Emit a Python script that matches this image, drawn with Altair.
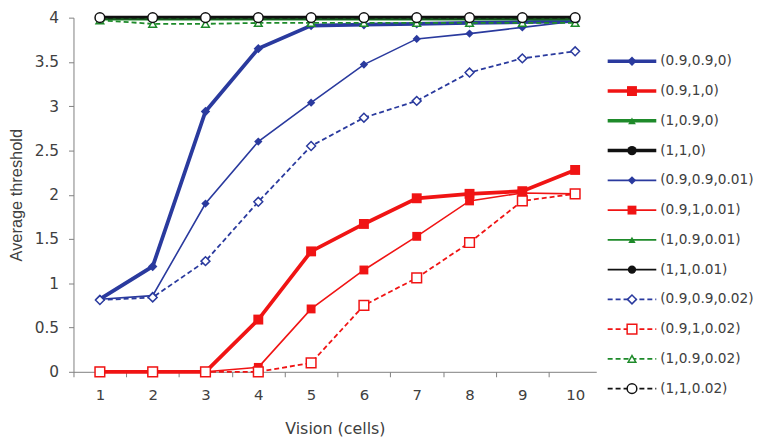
import altair as alt
import pandas as pd

# ---------------- data ----------------
vision = [1, 2, 3, 4, 5, 6, 7, 8, 9, 10]

labels = ["(0.9,0.9,0)", "(0.9,1,0)", "(1,0.9,0)", "(1,1,0)",
          "(0.9,0.9,0.01)", "(0.9,1,0.01)", "(1,0.9,0.01)", "(1,1,0.01)",
          "(0.9,0.9,0.02)", "(0.9,1,0.02)", "(1,0.9,0.02)", "(1,1,0.02)"]

s_0909_0 = [0.82, 1.19, 2.94, 3.65, 3.91, 3.92, 3.93, 3.94, 3.95, 3.96]
s_091_0 = [0.0, 0.0, 0.0, 0.59, 1.36, 1.67, 1.96, 2.01, 2.04, 2.28]
s_109_0 = [3.99, 3.99, 3.99, 3.99, 3.99, 3.99, 3.99, 3.99, 3.99, 3.99]
s_11_0 = [4.0, 4.0, 4.0, 4.0, 4.0, 4.0, 4.0, 4.0, 4.0, 4.0]
s_0909_001 = [0.82, 0.86, 1.90, 2.60, 3.04, 3.47, 3.76, 3.82, 3.89, 3.96]
s_091_001 = [0.0, 0.0, 0.0, 0.05, 0.71, 1.15, 1.53, 1.93, 2.02, 2.01]
s_109_001 = [3.99, 3.99, 3.99, 3.99, 3.99, 3.99, 3.99, 3.99, 3.99, 3.99]
s_11_001 = [4.0, 4.0, 4.0, 4.0, 4.0, 4.0, 4.0, 4.0, 4.0, 4.0]
s_0909_002 = [0.81, 0.84, 1.25, 1.92, 2.55, 2.87, 3.06, 3.38, 3.54, 3.62]
s_091_002 = [0.0, 0.0, 0.0, 0.0, 0.10, 0.75, 1.06, 1.46, 1.93, 2.01]
s_109_002 = [3.97, 3.93, 3.93, 3.94, 3.94, 3.94, 3.94, 3.94, 3.94, 3.94]
s_11_002 = [4.0, 4.0, 4.0, 4.0, 4.0, 4.0, 4.0, 4.0, 4.0, 4.0]

series_values = [s_0909_0, s_091_0, s_109_0, s_11_0,
                 s_0909_001, s_091_001, s_109_001, s_11_001,
                 s_0909_002, s_091_002, s_109_002, s_11_002]

# ---------------- styles ----------------
BLUE = "#2A3A9E"
RED = "#F01414"
GREEN = "#1E8A2A"
BLACK = "#111111"
# color, line width, dash, shape, filled, marker size
styles = [
    (BLUE, 3.8, None, "diamond", True, 90),
    (RED, 3.8, None, "square", True, 100),
    (GREEN, 3.8, None, "triangle-up", True, 60),
    (BLACK, 3.8, None, "circle", True, 90),
    (BLUE, 1.6, None, "diamond", True, 70),
    (RED, 1.6, None, "square", True, 80),
    (GREEN, 1.6, None, "triangle-up", True, 55),
    (BLACK, 1.6, None, "circle", True, 70),
    (BLUE, 1.8, [5, 3], "diamond", False, 80),
    (RED, 1.8, [5, 3], "square", False, 95),
    (GREEN, 1.8, [5, 3], "triangle-up", False, 60),
    (BLACK, 1.8, [5, 3], "circle", False, 95),
]

FONT_V = "Liberation Sans"
FONT_H = "DejaVu Sans"
TXT = "#404040"

rows = []
for lab, vals in zip(labels, series_values):
    for v, y in zip(vision, vals):
        rows.append({"series": lab, "vision": v, "value": y})
df = pd.DataFrame(rows)

W = 527
H = 357
X_MIN, X_MAX = 0.5, 10.4
half_step = W / (X_MAX - X_MIN) / 2

x_enc = alt.X("vision:Q",
              scale=alt.Scale(domain=[X_MIN, X_MAX], nice=False, zero=False),
              axis=alt.Axis(values=vision, tickOffset=-half_step, labelOffset=half_step,
                            title="Vision (cells)", grid=False, labelPadding=11,
                            titlePadding=18, labelFont=FONT_H, titleFont=FONT_H,
                            labelFontSize=15, titleFontSize=16))
y_enc = alt.Y("value:Q",
              scale=alt.Scale(domain=[0, 4], nice=False),
              axis=alt.Axis(values=[0, 0.5, 1, 1.5, 2, 2.5, 3, 3.5, 4], format="~g",
                            title="Average threshold", grid=False, labelPadding=10,
                            titlePadding=10, labelFont=FONT_H, titleFont=FONT_V,
                            labelFontSize=15.5, titleFontSize=16.5))


def line_mark(color, w, dash):
    kw = dict(color=color, strokeWidth=w)
    if dash:
        kw["strokeDash"] = dash
    return kw


def point_mark(color, shape, filled, size):
    if filled:
        return dict(shape=shape, filled=True, color=color, size=size, opacity=1,
                    strokeWidth=0)
    return dict(shape=shape, filled=True, fill="white", stroke=color,
                strokeWidth=1.5, size=size, opacity=1)


layers = []
for lab, (color, w, dash, shape, filled, size) in zip(labels, styles):
    base = alt.Chart(df).transform_filter(alt.datum.series == lab)
    layers.append(base.mark_line(**line_mark(color, w, dash)).encode(x=x_enc, y=y_enc))
    layers.append(base.mark_point(**point_mark(color, shape, filled, size)).encode(x=x_enc, y=y_enc))

main = alt.layer(*layers)

# ---------------- legend (drawn to the right of the plot) ----------------
leg_df = pd.DataFrame({"label": labels, "row": list(range(len(labels)))})
yl = alt.Y("row:Q", scale=alt.Scale(domain=[-1.467, 10.433], reverse=True, nice=False, zero=False),
           axis=None)
LX0, LX1, LXM, LXT = 538.5, 587.5, 563, 591.5
leg_layers = []
for lab, (color, w, dash, shape, filled, size) in zip(labels, styles):
    b = alt.Chart(leg_df).transform_filter(alt.datum.label == lab)
    leg_layers.append(b.mark_rule(**line_mark(color, min(w, 3.5), dash)).encode(
        x=alt.value(LX0), x2=alt.value(LX1), y=yl))
    leg_layers.append(b.mark_point(**point_mark(color, shape, filled, size)).encode(
        x=alt.value(LXM), y=yl))
leg_layers.append(alt.Chart(leg_df).mark_text(
    align="left", baseline="middle", font=FONT_H, fontSize=13.8, color=TXT
).encode(x=alt.value(LXT), y=yl, text="label:N"))
legend = alt.layer(*leg_layers)

chart = alt.layer(main, legend).resolve_scale(y="independent").properties(
    width=W, height=H,
    padding={"left": 0, "top": 0, "right": 0, "bottom": 0}
).configure_view(stroke=None).configure_axis(
    domainColor="#808080", tickColor="#808080", tickSize=5,
    labelColor=TXT, titleColor=TXT, titleFontWeight="normal"
)

chart.save("out.html", embed_options={"renderer": "svg", "actions": False})
